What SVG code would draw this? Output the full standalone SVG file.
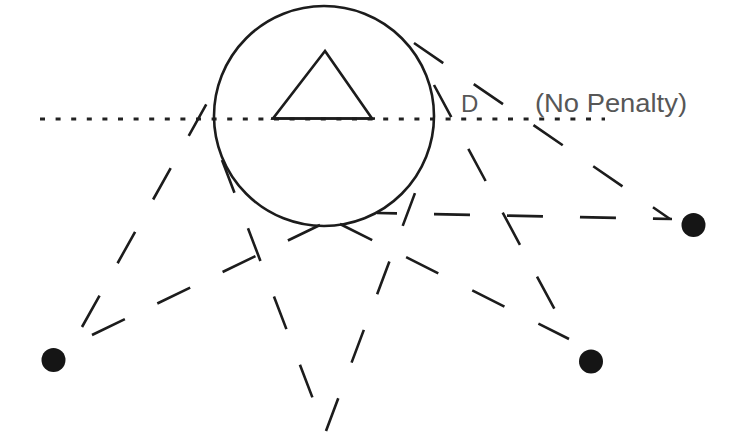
<svg xmlns="http://www.w3.org/2000/svg" width="734" height="447" viewBox="0 0 734 447">
  <style>
    .bg { fill: #ffffff; }
    .solid { fill: none; stroke: #1c1c1c; stroke-width: 2.6; }
    .dotted { fill: none; stroke: #222222; stroke-width: 3; stroke-dasharray: 5 10.6; }
    .dash { fill: none; stroke: #1c1c1c; stroke-width: 2.6; stroke-linecap: butt; }
    .dot { fill: #151515; }
    .label { font-family: "Liberation Sans", Arial, sans-serif; fill: #575757; }
  </style>
  <rect class="bg" x="0" y="0" width="734" height="447"/>

  <g id="reference-line">
    <line class="dotted" x1="40" y1="119" x2="605" y2="119"/>
  </g>

  <g id="obstacle">
    <circle class="solid" cx="324" cy="116" r="110"/>
  </g>

  <g id="triangle">
    <polygon class="solid" points="325,51 273,118.5 372,118.5" stroke-linejoin="miter"/>
    <line class="solid" x1="271" y1="118.5" x2="375" y2="118.5"/>
  </g>

  <g id="connectors">
    <path class="dash" d="M82,327 L207,103" stroke-dasharray="36 37"/>
    <path class="dash" d="M92,335 L320,225" stroke-dasharray="36.5 36"/>
    <path class="dash" d="M222,160 L313,399" stroke-dasharray="35 38"/>
    <path class="dash" d="M326,431 L415,193" stroke-dasharray="35 38"/>
    <path class="dash" d="M414,43 L670,219" stroke-dasharray="35.5 37"/>
    <path class="dash" d="M377,213 L672,219" stroke-dasharray="36 37" stroke-dashoffset="16"/>
    <path class="dash" d="M434,85 L555,310" stroke-dasharray="36.5 36"/>
    <path class="dash" d="M340,224 L569,339" stroke-dasharray="36 38"/>
  </g>

  <g id="point-left">
    <circle class="dot" cx="53.5" cy="360" r="12"/>
  </g>
  <g id="point-bottom-right">
    <circle class="dot" cx="591" cy="361.5" r="12"/>
  </g>
  <g id="point-right">
    <circle class="dot" cx="693.5" cy="225" r="12"/>
  </g>

  <g id="label-d">
    <text class="label" x="461" y="112" font-size="24">D</text>
  </g>
  <g id="label-no-penalty">
    <text class="label" x="535" y="112" font-size="26" textLength="152" lengthAdjust="spacingAndGlyphs">(No Penalty)</text>
  </g>
</svg>
